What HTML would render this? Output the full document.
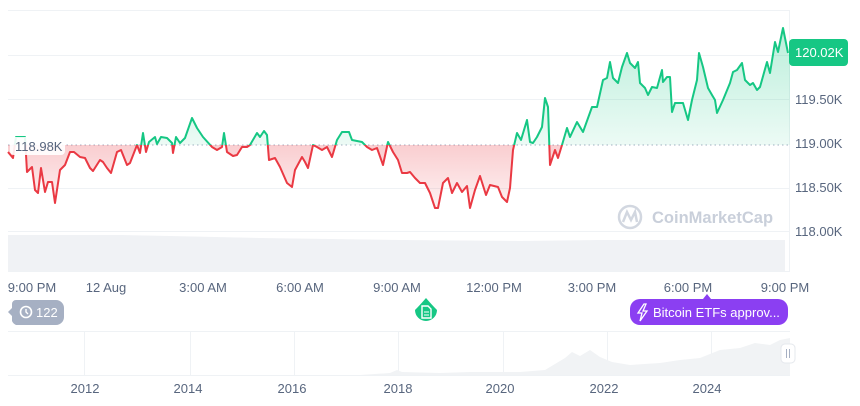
<!DOCTYPE html>
<html><head><meta charset="utf-8"><style>
body{margin:0;background:#fff;width:860px;height:401px;overflow:hidden;font-family:"Liberation Sans",sans-serif}
</style></head><body>
<svg width="860" height="401" viewBox="0 0 860 401" xmlns="http://www.w3.org/2000/svg" font-family="Liberation Sans, sans-serif">
<defs>
<linearGradient id="gg" x1="0" y1="25" x2="0" y2="145" gradientUnits="userSpaceOnUse"><stop offset="0" stop-color="#16c784" stop-opacity="0.3"/><stop offset="1" stop-color="#16c784" stop-opacity="0.08"/></linearGradient>
<linearGradient id="rg" x1="0" y1="145" x2="0" y2="210" gradientUnits="userSpaceOnUse"><stop offset="0" stop-color="#ea3943" stop-opacity="0.25"/><stop offset="1" stop-color="#ea3943" stop-opacity="0.06"/></linearGradient>
<clipPath id="top"><rect x="0" y="0" width="860" height="145"/></clipPath>
<clipPath id="bot"><rect x="0" y="145" width="860" height="200"/></clipPath>
</defs>
<g stroke="#eff2f5" stroke-width="1">
<line x1="8" y1="10.5" x2="790" y2="10.5"/>
<line x1="8" y1="55.5" x2="790" y2="55.5"/>
<line x1="8" y1="99.5" x2="790" y2="99.5"/>
<line x1="8" y1="188.5" x2="790" y2="188.5"/>
<line x1="8" y1="231.5" x2="790" y2="231.5"/>
<line x1="789.5" y1="10" x2="789.5" y2="271"/>
<line x1="8" y1="271.5" x2="790" y2="271.5"/>
</g>
<path d="M8 235 L120 235 L170 236 L260 238 L400 240 L520 241 L600 240 L700 240 L785 240 L785 271 L8 271 Z" fill="#f0f2f5"/>
<line x1="8" y1="145" x2="790" y2="145" stroke="#a6b0c3" stroke-dasharray="1.5 3" stroke-width="1"/>
<g id="chart">
<path id="ln" d="M8 152L13 158L16 137L25 137L27 172L32 167L35 190L38 193L41 168L45 192L48 182L52 182L55 203L60 170L65 165L70 152L74 152L80 157L85 158L90 168L93 171L100 160L103 162L107 168L111 173L117 152L121 150L127 165L130 163L137 145L140 153L143 133L146 152L149 142L155 137L157 144L161 137L167 138L172 143L173 153L176 137L180 143L185 138L192 118L197 128L203 137L212 147L217 150L222 147L224 133L227 152L233 156L237 155L242 147L247 147L250 145L257 133L260 137L264 131L267 135L269 160L275 158L280 167L287 183L292 187L295 170L302 157L305 162L308 168L313 145L317 147L322 150L327 147L332 157L337 140L342 132L349 132L352 140L362 142L367 147L372 150L377 148L383 165L388 142L393 152L398 160L402 173L407 173L410 172L415 178L420 183L425 183L430 193L435 208L438 208L443 183L448 178L452 193L457 183L462 192L467 186L470 208L475 190L480 176L486 195L490 185L498 187L502 197L507 202L510 188L513 150L517 133L521 140L527 120L530 142L533 143L537 137L542 127L545 98L548 107L550 165L555 150L558 158L562 145L567 128L570 137L577 122L583 132L592 107L597 107L603 80L607 78L610 62L613 78L618 83L622 67L627 53L630 63L635 68L638 62L640 83L645 88L648 95L652 87L657 88L662 70L663 82L667 77L670 77L672 112L675 103L683 103L688 120L692 100L697 80L699 53L703 67L708 88L712 95L715 100L717 113L723 100L730 83L733 72L737 70L742 63L745 80L750 85L753 83L757 90L760 87L767 62L770 73L775 42L778 52L783 28L788 53" fill="none"/>
</g>
<path d="M8 152L13 158L16 137L25 137L27 172L32 167L35 190L38 193L41 168L45 192L48 182L52 182L55 203L60 170L65 165L70 152L74 152L80 157L85 158L90 168L93 171L100 160L103 162L107 168L111 173L117 152L121 150L127 165L130 163L137 145L140 153L143 133L146 152L149 142L155 137L157 144L161 137L167 138L172 143L173 153L176 137L180 143L185 138L192 118L197 128L203 137L212 147L217 150L222 147L224 133L227 152L233 156L237 155L242 147L247 147L250 145L257 133L260 137L264 131L267 135L269 160L275 158L280 167L287 183L292 187L295 170L302 157L305 162L308 168L313 145L317 147L322 150L327 147L332 157L337 140L342 132L349 132L352 140L362 142L367 147L372 150L377 148L383 165L388 142L393 152L398 160L402 173L407 173L410 172L415 178L420 183L425 183L430 193L435 208L438 208L443 183L448 178L452 193L457 183L462 192L467 186L470 208L475 190L480 176L486 195L490 185L498 187L502 197L507 202L510 188L513 150L517 133L521 140L527 120L530 142L533 143L537 137L542 127L545 98L548 107L550 165L555 150L558 158L562 145L567 128L570 137L577 122L583 132L592 107L597 107L603 80L607 78L610 62L613 78L618 83L622 67L627 53L630 63L635 68L638 62L640 83L645 88L648 95L652 87L657 88L662 70L663 82L667 77L670 77L672 112L675 103L683 103L688 120L692 100L697 80L699 53L703 67L708 88L712 95L715 100L717 113L723 100L730 83L733 72L737 70L742 63L745 80L750 85L753 83L757 90L760 87L767 62L770 73L775 42L778 52L783 28L788 53L790 55L790 145L8 145Z" fill="url(#gg)" clip-path="url(#top)"/>
<path d="M8 152L13 158L16 137L25 137L27 172L32 167L35 190L38 193L41 168L45 192L48 182L52 182L55 203L60 170L65 165L70 152L74 152L80 157L85 158L90 168L93 171L100 160L103 162L107 168L111 173L117 152L121 150L127 165L130 163L137 145L140 153L143 133L146 152L149 142L155 137L157 144L161 137L167 138L172 143L173 153L176 137L180 143L185 138L192 118L197 128L203 137L212 147L217 150L222 147L224 133L227 152L233 156L237 155L242 147L247 147L250 145L257 133L260 137L264 131L267 135L269 160L275 158L280 167L287 183L292 187L295 170L302 157L305 162L308 168L313 145L317 147L322 150L327 147L332 157L337 140L342 132L349 132L352 140L362 142L367 147L372 150L377 148L383 165L388 142L393 152L398 160L402 173L407 173L410 172L415 178L420 183L425 183L430 193L435 208L438 208L443 183L448 178L452 193L457 183L462 192L467 186L470 208L475 190L480 176L486 195L490 185L498 187L502 197L507 202L510 188L513 150L517 133L521 140L527 120L530 142L533 143L537 137L542 127L545 98L548 107L550 165L555 150L558 158L562 145L567 128L570 137L577 122L583 132L592 107L597 107L603 80L607 78L610 62L613 78L618 83L622 67L627 53L630 63L635 68L638 62L640 83L645 88L648 95L652 87L657 88L662 70L663 82L667 77L670 77L672 112L675 103L683 103L688 120L692 100L697 80L699 53L703 67L708 88L712 95L715 100L717 113L723 100L730 83L733 72L737 70L742 63L745 80L750 85L753 83L757 90L760 87L767 62L770 73L775 42L778 52L783 28L788 53L790 55L790 145L8 145Z" fill="url(#rg)" clip-path="url(#bot)"/>
<use href="#ln" stroke="#16c784" stroke-width="2" stroke-linejoin="round" clip-path="url(#top)"/>
<use href="#ln" stroke="#ea3943" stroke-width="2" stroke-linejoin="round" clip-path="url(#bot)"/>
<g opacity="0.5" fill="none" stroke="#a6b0c3" stroke-width="2.5"><circle cx="630" cy="217" r="11"/><path d="M623 222 L627 212 L631 220 L635 212 L637 222"/></g>
<text x="652" y="223" font-size="16.5" font-weight="bold" fill="#a6b0c3" opacity="0.6">CoinMarketCap</text>
<rect x="10" y="137" width="55" height="18" rx="4" fill="#fff" opacity="0.9"/>
<text x="15" y="151" font-size="13" fill="#58667e">118.98K</text>
<rect x="789" y="39" width="59" height="27" rx="4" fill="#16c784"/>
<text x="795" y="57" font-size="13" fill="#fff">120.02K</text>
<g font-size="13" fill="#58667e">
<text x="795" y="104">119.50K</text>
<text x="795" y="148">119.00K</text>
<text x="795" y="192">118.50K</text>
<text x="795" y="236">118.00K</text>
</g>
<g font-size="13" fill="#58667e" text-anchor="middle">
<text x="32" y="292">9:00 PM</text><text x="106" y="292">12 Aug</text><text x="203" y="292">3:00 AM</text><text x="300" y="292">6:00 AM</text><text x="397" y="292">9:00 AM</text><text x="494" y="292">12:00 PM</text><text x="592" y="292">3:00 PM</text><text x="688" y="292">6:00 PM</text><text x="785" y="292">9:00 PM</text>
</g>
<path d="M16 300 H56 A8 8 0 0 1 64 308 V317 A8 8 0 0 1 56 325 H16 A8 8 0 0 1 12 321 V316 L8 312 L12 308 V304 A4 4 0 0 1 16 300Z" fill="#a6b0c3"/>
<circle cx="26" cy="312" r="5.5" fill="none" stroke="#fff" stroke-width="1.6"/><path d="M26 309 V312 L28 314" stroke="#fff" stroke-width="1.4" fill="none"/>
<text x="36" y="317" font-size="13" fill="#fff">122</text>
<path d="M426 298 Q432 305 437 310 A11 11 0 1 1 415 310 Q420 305 426 298Z" fill="#16c784"/>
<path d="M422 306 H428 L431 309 V318 H422 Z" fill="none" stroke="#fff" stroke-width="1.4"/>
<path d="M424 312 H429 M424 315 H429" stroke="#fff" stroke-width="1"/>
<path d="M707 294 L711 299 L703 299Z" fill="#8b3ff2"/>
<rect x="630" y="299" width="158" height="26" rx="10" fill="#8b3ff2"/>
<path d="M644 304 L638 313 H642 L640 321 L647 311 H643 L646 304Z" fill="none" stroke="#fff" stroke-width="1.3"/>
<text x="653" y="317" font-size="13" fill="#fff">Bitcoin ETFs approv...</text>
<g stroke="#eff2f5"><line x1="84.5" y1="332" x2="84.5" y2="375"/><line x1="190.5" y1="332" x2="190.5" y2="375"/><line x1="294.5" y1="332" x2="294.5" y2="375"/><line x1="398.5" y1="332" x2="398.5" y2="375"/><line x1="503.5" y1="332" x2="503.5" y2="375"/><line x1="607.5" y1="332" x2="607.5" y2="375"/><line x1="711.5" y1="332" x2="711.5" y2="375"/><line x1="8" y1="331.5" x2="790" y2="331.5"/><line x1="8" y1="375.5" x2="790" y2="375.5"/></g>
<path d="M8 375 L360 375 L390 373 L397 370 L402 372 L440 373 L470 372 L520 372 L545 370 L555 364 L565 358 L572 352 L580 356 L590 350 L600 357 L612 362 L630 365 L660 363 L680 360 L700 358 L720 350 L740 348 L755 343 L770 345 L780 340 L790 338 L790 375 Z" fill="#f1f3f5"/>
<rect x="781" y="344" width="14" height="19" rx="4" fill="#fff" stroke="#e5e8ed"/>
<path d="M786.5 349 V358 M789.5 349 V358" stroke="#a6b0c3"/>
<g font-size="13" fill="#58667e" text-anchor="middle">
<text x="85" y="393">2012</text><text x="188" y="393">2014</text><text x="292" y="393">2016</text><text x="398" y="393">2018</text><text x="500" y="393">2020</text><text x="604" y="393">2022</text><text x="707" y="393">2024</text>
</g>
</svg>
</body></html>
